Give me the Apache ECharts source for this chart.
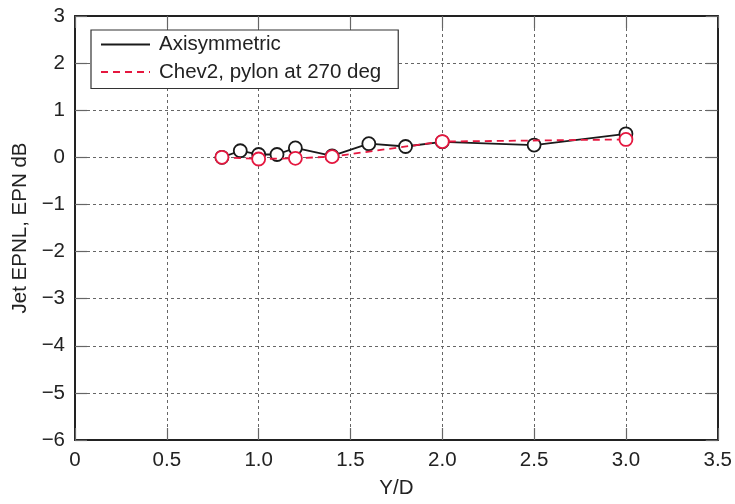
<!DOCTYPE html>
<html><head><meta charset="utf-8">
<script src="https://cdn.jsdelivr.net/npm/echarts@6/dist/echarts.min.js"></script>
<style>html,body{margin:0;padding:0;background:#fff}#c{width:735px;height:504px}</style>
</head><body><div id="c"></div>
<script>
var axiX = [0.8, 0.9, 1.0, 1.1, 1.2, 1.4, 1.6, 1.8, 2.0, 2.5, 3.0];
var axiY = [0.0, 0.14, 0.06, 0.06, 0.2, 0.03, 0.29, 0.23, 0.33, 0.26, 0.5];
var chevX = [0.8, 1.0, 1.2, 1.4, 2.0, 3.0];
var chevY = [0.0, -0.035, -0.02, 0.015, 0.335, 0.38];
var seriesNames = ['Axisymmetric', 'Chev2, pylon at 270 deg'];
var xTicks = [0, 0.5, 1.0, 1.5, 2.0, 2.5, 3.0, 3.5];
var yTicks = [-6, -5, -4, -3, -2, -1, 0, 1, 2, 3];

function pairs(xs, ys){ return xs.map(function(x,i){return [x, ys[i]];}); }
var font = '"Liberation Sans", Arial, sans-serif';
var fs = 20.5;
var red = '#e5173f';
var chart = echarts.init(document.getElementById('c'), null, {renderer:'canvas'});
var axisCommon = {
  axisLine:{show:true, onZero:false, lineStyle:{color:'#222', width:2}},
  axisTick:{show:true, inside:true, length:12, lineStyle:{color:'#666', width:1.2}}
};
chart.setOption({
  animation:false,
  backgroundColor:'#fff',
  grid:{left:75, right:15, top:16, bottom:58, show:false},
  legend:{
    data:seriesNames.map(function(n){return {name:n};}),
    orient:'vertical', left:91, top:30,
    backgroundColor:'#fff',
    borderColor:'#333', borderWidth:1.2, borderRadius:0,
    padding:[4,17,6,9], itemGap:6.5, itemWidth:49, itemHeight:16,
    itemStyle:{opacity:0},
    textStyle:{fontFamily:font, fontSize:fs, color:'#222', padding:[0,0,0,4]},
    selectedMode:false
  },
  xAxis:[
    Object.assign({type:'value', min:0, max:3.5, interval:0.5, position:'bottom',
      name:'Y/D', nameLocation:'middle', nameGap:38,
      nameTextStyle:{fontFamily:font, fontSize:fs, color:'#222'},
      axisLabel:{fontFamily:font, fontSize:fs, color:'#222', margin:10,
        formatter:function(v){ return v===0 ? '0' : v.toFixed(1); }},
      splitLine:{show:true, lineStyle:{color:'#666', type:[3,3], width:1}}
    }, axisCommon),
    Object.assign({type:'value', min:0, max:3.5, interval:0.5, position:'top',
      axisLabel:{show:false}, splitLine:{show:false}}, axisCommon)
  ],
  yAxis:[
    Object.assign({type:'value', min:-6, max:3, interval:1, position:'left',
      name:'Jet EPNL, EPN dB', nameLocation:'middle', nameGap:43,
      nameTextStyle:{fontFamily:font, fontSize:fs, color:'#222'},
      axisLabel:{fontFamily:font, fontSize:fs, color:'#222', margin:10,
        formatter:function(v){ return v<0 ? '\u2212'+Math.abs(v) : String(v); }},
      splitLine:{show:true, lineStyle:{color:'#666', type:[3,3], width:1}}
    }, axisCommon),
    Object.assign({type:'value', min:-6, max:3, interval:1, position:'right',
      axisLabel:{show:false}, splitLine:{show:false}}, axisCommon)
  ],
  series:[
    {name:'axi-data', type:'line', data:pairs(axiX, axiY), symbol:'circle', symbolSize:13,
      lineStyle:{color:'#1a1a1a', width:1.8}, itemStyle:{color:'#fff', borderColor:'#1a1a1a', borderWidth:1.8}, z:3},
    {name:'chev-data', type:'line', data:pairs(chevX, chevY), symbol:'circle', symbolSize:13,
      lineStyle:{color:red, width:1.8, type:[7,5]}, itemStyle:{color:'#fff', borderColor:red, borderWidth:1.8}, z:4},
    {name:seriesNames[0], type:'line', data:[], symbol:'none', lineStyle:{color:'#1a1a1a', width:1.8}, itemStyle:{color:'#1a1a1a'}},
    {name:seriesNames[1], type:'line', data:[], symbol:'none', lineStyle:{color:red, width:1.8, type:[7,5]}, itemStyle:{color:red}}
  ]
});
</script></body></html>
